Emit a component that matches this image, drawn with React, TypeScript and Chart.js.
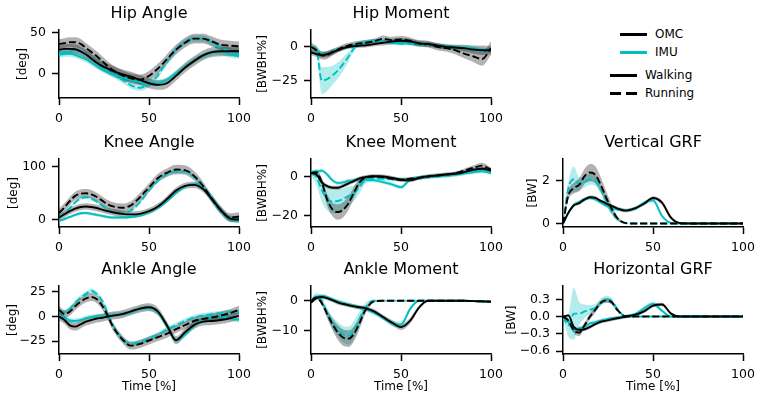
import React, { useEffect, useRef } from "react";
import { Chart, registerables } from "chart.js";
Chart.register(...registerables);

// ---------- data ----------
const X = [0, 3, 6, 9, 12, 15, 18, 21, 24, 27, 30, 35, 40, 45, 50, 55, 60, 65, 70, 75, 80, 85, 90, 95, 100];
const X_TICKS = [0, 50, 100];

// Hip angle [deg]
const HA_OMC_W = [29, 30, 30, 29.5, 27, 23, 18, 13, 9, 6, 3, -1, -4, -8, -12, -14, -12, -3, 7, 15, 22, 26, 27, 27, 27];
const HA_OMC_R = [36, 37, 38, 38, 36, 31, 26, 21, 15, 9, 4, -2, -6, -7.5, -3, 6, 17.5, 29, 37.5, 42.5, 42.5, 39, 35, 34, 33];
const HA_IMU_W = [23, 24, 24, 22.5, 20, 17, 13, 9, 5, 2, -1, -5, -8, -10.5, -12.5, -12, -7.5, 0, 8, 16, 21, 25, 26, 23, 21];
const HA_IMU_R = [25, 26, 27, 29, 27, 23, 18, 13, 8, 3, -1, -7.5, -14.5, -17.5, -12.5, -2, 14.5, 29, 38, 42.5, 42.5, 37.5, 31, 27, 25];
const HA_SD_OMC_W = [6, 6, 6, 6, 6, 6, 6, 6, 6, 6, 6, 6, 6, 6, 6, 6, 6, 6, 6, 6, 6, 6, 6, 6, 6];
const HA_SD_OMC_R = [6, 6, 6, 6, 6, 6, 6, 6, 6, 6, 6, 6, 6, 6, 6, 6, 6, 6, 6, 6, 6, 6, 6, 6, 6];
const HA_SD_IMU_W = [3.5, 3.5, 3.5, 3.5, 3.5, 3.5, 3.5, 3.5, 3.5, 3.5, 3.5, 3.5, 3.5, 3.5, 3.5, 3.5, 3.5, 3.5, 3.5, 3.5, 3.5, 3.5, 3.5, 3.5, 3.5];
const HA_SD_IMU_R = [4, 4, 4, 4, 4, 4, 4, 4, 4, 4, 4, 4, 4, 4, 4, 4, 4, 4, 4, 4, 4, 4, 4, 4, 4];
const HA_TICKS = [0, 50];

// Hip moment [BWBH%]
const HM_OMC_W = [-4, -5.5, -6, -5.5, -4, -2.5, -1, 0, 0.5, 0.8, 1, 2, 3, 4, 4.5, 4, 2.5, 2, 1, 0, -0.5, -1, -2, -2.5, -2.5];
const HM_OMC_R = [0, -2.5, -6.5, -6, -4, -2, 0, 1, 2, 2.5, 3, 4, 6, 5, 5.5, 4.5, 2.5, 2, 0, -1, -2.5, -5, -7, -9, -1];
const HM_IMU_W = [-0.5, -2.5, -5, -5.5, -3.5, -2, -1, 0.5, 1.5, 2.5, 3.5, 4.5, 4, 3, 2.5, 3, 2.5, 2, 1, 0.5, 0, -0.5, -1, -2, -2.5];
const HM_IMU_R = [0, -2, -25, -24, -21, -17.5, -12.5, -7, -1, 2.5, 3, 4.5, 4, 3, 2.5, 2, 1.5, 1.5, 0.5, 0, -0.5, -1.2, -2.5, -3, -2.5];
const HM_SD_OMC_W = [2, 2, 2, 2, 2, 1.5, 1.5, 1.5, 1.5, 1.5, 1.5, 1.5, 2, 2, 2, 2, 2, 2, 2, 2, 2, 2.5, 3, 3.5, 3];
const HM_SD_OMC_R = [3, 3, 3, 3, 2.5, 2, 2, 2, 2, 2, 2, 2, 2.5, 2.5, 2.5, 2.5, 2.5, 2.5, 2.5, 2.5, 3, 3.5, 4, 5, 5];
const HM_SD_IMU_W = [1.5, 1.5, 1.5, 1.5, 1.5, 1.5, 1.5, 1.5, 1.5, 1.5, 1.5, 1.5, 1.5, 1.5, 1.5, 1.5, 1.5, 1.5, 1.5, 1.5, 1.5, 1.5, 1.5, 1.5, 1.5];
const HM_SD_IMU_R = [1, 3, 10, 9, 7, 6, 5, 3.5, 2, 1.5, 1, 1, 1, 1, 1, 1, 1, 1, 1, 1, 1, 1, 1, 1, 1];
const HM_TICKS = [-25, 0];

// Knee angle [deg]
const KA_OMC_W = [4, 10, 16, 21, 24, 25, 24, 22, 19, 16, 14, 11, 10, 11, 16, 25, 39, 55, 64, 66, 58, 39, 17.5, 2, 0];
const KA_OMC_R = [12.5, 23, 35, 45, 49, 50, 48, 43, 36, 29, 25, 22.5, 27, 42.5, 61, 79, 89, 95, 94, 83, 64, 39, 17.5, 4, 6];
const KA_IMU_W = [-2.5, 1, 5, 9, 12, 12.5, 11, 9, 7, 5, 4, 4, 5, 8, 14, 22.5, 35, 50, 62.5, 67.5, 61, 42.5, 17.5, 0, -2.5];
const KA_IMU_R = [4, 12, 22, 33, 40, 42.5, 40, 34, 27, 20, 14, 12.5, 17.5, 33, 55, 74, 86, 91, 91, 81, 62.5, 37.5, 14, 2, 2];
const KA_SD_OMC_W = [6, 6, 6, 6, 6, 6, 6, 6, 6, 6, 6, 6, 6, 6, 6, 6, 6, 6, 6, 6, 6, 6, 6, 6, 6];
const KA_SD_OMC_R = [8, 8, 8, 8, 8, 8, 8, 8, 8, 8, 8, 8, 8, 8, 8, 8, 8, 9, 9, 9, 8, 8, 8, 8, 8];
const KA_SD_IMU_W = [3, 3, 3, 3, 3, 3, 3, 3, 3, 3, 3, 3, 3, 3, 3, 3, 3, 3, 3, 3, 3, 3, 3, 3, 3];
const KA_SD_IMU_R = [3, 3, 3, 3, 3, 3, 3, 3, 3, 3, 3, 3, 3, 3, 3, 3, 3, 3, 3, 3, 3, 3, 3, 3, 3];
const KA_TICKS = [0, 100];

// Knee moment [BWBH%]
const KM_OMC_W = [1.7, 1, -3, -5, -5.8, -5.8, -4.8, -3.5, -2.2, -1, -0.3, 0.2, 0, -0.7, -1.7, -2, -0.7, 0, 0.5, 1, 1.4, 2.2, 3.4, 4, 3];
const KM_OMC_R = [1.7, 2.2, -3, -12, -17, -18.3, -17, -13.5, -8, -3, -0.7, 0, -0.3, -1.2, -1.7, -1.2, -0.7, 0, 0.5, 1, 1.7, 3, 4.4, 5.6, 3.4];
const KM_IMU_W = [2.2, 2.5, 3, 1, -2, -3.4, -3, -2.2, -2, -1.9, -1.7, -2, -2.9, -4.1, -5.5, -1.7, -0.7, 0, 0.5, 0.5, 1, 1.7, 2.2, 2.7, 1.7];
const KM_IMU_R = [1.7, -0.3, -7, -11.5, -13, -12.6, -11.5, -10, -8.5, -5.5, -2, -1.2, -1.2, -1.2, -1.7, -1.2, -0.7, -0.3, 0, 0.5, 1, 1.7, 2.7, 3.4, 3];
const KM_SD_OMC_W = [1, 1, 1, 1, 1, 1, 1, 1, 1, 1, 1, 1, 1, 1, 1, 1, 1, 1, 1, 1, 1, 1, 1, 1, 1];
const KM_SD_OMC_R = [0.5, 1, 2, 3, 3.5, 4, 4, 3.5, 3, 2, 1, 0.8, 0.8, 0.8, 0.8, 0.8, 0.8, 0.8, 0.8, 0.8, 0.8, 1, 1.2, 1.5, 1.2];
const KM_SD_IMU_W = [1, 1, 1, 1, 1, 1, 1, 1, 1, 1, 1, 1, 1, 1, 1, 1, 1, 1, 1, 1, 1, 1, 1, 1, 1];
const KM_SD_IMU_R = [1, 4, 6, 6, 6, 6, 5.5, 5, 4, 3, 2, 1, 1, 1, 1, 1, 1, 1, 1, 1, 1, 1, 1, 1, 1];
const KM_TICKS = [-20, 0];

// Vertical GRF [BW]
const VG_OMC_W = [0, 0.5, 0.85, 0.95, 1.12, 1.22, 1.19, 1.05, 0.93, 0.82, 0.71, 0.6, 0.71, 0.92, 1.19, 0.97, 0.27, 0.02, 0, 0, 0, 0, 0, 0, 0];
const VG_OMC_R = [0, 1.32, 1.65, 1.8, 2.2, 2.37, 2.26, 1.8, 1.2, 0.7, 0.27, 0.02, 0, 0, 0, 0, 0, 0, 0, 0, 0, 0, 0, 0, 0];
const VG_IMU_W = [0, 0.5, 0.85, 1.0, 1.13, 1.19, 1.12, 0.97, 0.83, 0.74, 0.65, 0.62, 0.68, 0.97, 1.08, 0.35, 0.03, 0, 0, 0, 0, 0, 0, 0, 0];
const VG_IMU_R = [0, 1.65, 2.05, 1.85, 1.93, 2.05, 2.0, 1.6, 1.05, 0.55, 0.23, 0.02, 0, 0, 0, 0, 0, 0, 0, 0, 0, 0, 0, 0, 0];
const VG_SD_OMC_W = [0, 0.05, 0.08, 0.08, 0.08, 0.08, 0.08, 0.08, 0.08, 0.08, 0.08, 0.08, 0.08, 0.08, 0.08, 0.1, 0.08, 0.02, 0, 0, 0, 0, 0, 0, 0];
const VG_SD_OMC_R = [0, 0.2, 0.25, 0.3, 0.35, 0.4, 0.4, 0.35, 0.3, 0.2, 0.1, 0.02, 0, 0, 0, 0, 0, 0, 0, 0, 0, 0, 0, 0, 0];
const VG_SD_IMU_W = [0, 0.05, 0.08, 0.08, 0.08, 0.08, 0.08, 0.08, 0.08, 0.08, 0.08, 0.08, 0.08, 0.08, 0.1, 0.08, 0.02, 0, 0, 0, 0, 0, 0, 0, 0];
const VG_SD_IMU_R = [0, 0.3, 0.6, 0.3, 0.25, 0.25, 0.25, 0.2, 0.2, 0.15, 0.1, 0.02, 0, 0, 0, 0, 0, 0, 0, 0, 0, 0, 0, 0, 0];
const VG_TICKS = [0, 2];

// Ankle angle [deg]
const AA_OMC_W = [0, -3.5, -9, -10.2, -8, -5.2, -3.5, -2, -1.2, 0, 1, 2.4, 5.2, 8, 9.4, 5, -9, -24, -16, -8.7, -5.2, -4.5, -3.5, -1.7, 1];
const AA_OMC_R = [7, 2.4, 5, 10.5, 15, 18.4, 19.8, 17.5, 11, 1, -10.4, -22.6, -29.5, -27.8, -24.3, -20.8, -17.4, -12.8, -8.7, -4.5, -2.4, -1, 1, 3.5, 7];
const AA_IMU_W = [0, -1, -4, -4.5, -3.5, -1.7, -0.5, 0, 0.7, 1, 1.5, 2.4, 4.5, 8, 8.7, 4, -10, -24, -18.4, -9.4, -3.5, -1, 0, -1.7, -3.5];
const AA_IMU_R = [5.2, 4.5, 8, 14, 19, 23, 26, 23, 16, 4, -8.7, -22.6, -27.8, -26, -22.6, -18.4, -12.8, -8.7, -4.5, -1, 1, 2.4, 3.5, 4.5, 4.5];
const AA_SD_OMC_W = [4, 4, 4, 4, 4, 4, 4, 4, 4, 4, 4, 4, 4, 4, 4, 4, 4, 4, 4, 4, 4, 4, 4, 4, 4];
const AA_SD_OMC_R = [4, 4, 4, 4, 4, 4, 4, 4, 4, 4, 4, 4, 4, 4, 4, 4, 4, 4, 4, 4, 4, 4, 4, 4, 4];
const AA_SD_IMU_W = [2.5, 2.5, 2.5, 2.5, 2.5, 2.5, 2.5, 2.5, 2.5, 2.5, 2.5, 2.5, 2.5, 2.5, 2.5, 2.5, 2.5, 2.5, 2.5, 2.5, 2.5, 2.5, 2.5, 2.5, 2.5];
const AA_SD_IMU_R = [2.5, 2.5, 2.5, 2.5, 2.5, 2.5, 2.5, 2.5, 2.5, 2.5, 2.5, 2.5, 2.5, 2.5, 2.5, 2.5, 2.5, 2.5, 2.5, 2.5, 2.5, 2.5, 2.5, 2.5, 2.5];
const AA_TICKS = [-25, 0, 25];

// Ankle moment [BWBH%]
const AM_OMC_W = [-0.6, 0.9, 1.3, 0.9, 0.2, -0.6, -1.1, -1.5, -1.9, -2.2, -2.5, -3.6, -5.5, -7.4, -8.9, -6.8, -2.3, 0, 0, 0, 0, 0, -0.1, -0.2, -0.3];
const AM_OMC_R = [0, 1.1, -0.8, -4.5, -8, -10.8, -12.5, -12.8, -11, -7.5, -3.4, -0.2, 0, 0, 0, 0, 0, 0, 0, 0, 0, 0, -0.1, -0.2, -0.3];
const AM_IMU_W = [-0.6, 1.1, 1.6, 1.2, 0.4, -0.2, -0.8, -1.3, -1.8, -2.3, -2.8, -4, -5.7, -7.7, -8, -2.8, 0, 0, 0, 0, 0, 0, -0.1, -0.2, -0.3];
const AM_IMU_R = [0, 1.7, 0, -4, -7.5, -9.7, -11.4, -11.8, -9.7, -6, -2.3, 0, 0, 0, 0, 0, 0, 0, 0, 0, 0, 0, -0.1, -0.2, -0.3];
const AM_SD_OMC_W = [0.5, 0.6, 0.7, 0.7, 0.7, 0.7, 0.7, 0.7, 0.7, 0.7, 0.7, 0.8, 0.8, 0.9, 1, 1, 0.6, 0.2, 0.2, 0.2, 0.2, 0.2, 0.2, 0.2, 0.2];
const AM_SD_OMC_R = [0.3, 0.6, 0.8, 1.5, 2, 2.5, 2.8, 2.8, 2.5, 2, 1.2, 0.4, 0.2, 0.2, 0.2, 0.2, 0.2, 0.2, 0.2, 0.2, 0.2, 0.2, 0.2, 0.2, 0.2];
const AM_SD_IMU_W = [0.5, 0.6, 0.7, 0.7, 0.7, 0.7, 0.7, 0.7, 0.7, 0.7, 0.7, 0.8, 0.8, 0.9, 1, 0.8, 0.3, 0.2, 0.2, 0.2, 0.2, 0.2, 0.2, 0.2, 0.2];
const AM_SD_IMU_R = [0.3, 1, 1, 1.5, 2, 2.5, 2.8, 3, 3, 2.5, 1.5, 0.4, 0.2, 0.2, 0.2, 0.2, 0.2, 0.2, 0.2, 0.2, 0.2, 0.2, 0.2, 0.2, 0.2];
const AM_TICKS = [-10, 0];

// Horizontal GRF [BW]
const HG_OMC_W = [0, 0.02, -0.18, -0.23, -0.22, -0.18, -0.13, -0.09, -0.07, -0.05, -0.03, 0, 0.03, 0.09, 0.19, 0.21, 0.05, 0, 0, 0, 0, 0, 0, 0, 0];
const HG_OMC_R = [0, -0.07, -0.24, -0.28, -0.15, 0, 0.12, 0.24, 0.28, 0.25, 0.12, 0, 0, 0, 0, 0, 0, 0, 0, 0, 0, 0, 0, 0, 0];
const HG_IMU_W = [0, -0.1, -0.24, -0.2, -0.18, -0.12, -0.1, -0.07, -0.05, -0.03, -0.02, 0, 0.04, 0.14, 0.22, 0.1, 0, 0, 0, 0, 0, 0, 0, 0, 0];
const HG_IMU_R = [0, -0.15, 0.05, 0.05, 0.09, 0.12, 0.15, 0.25, 0.3, 0.27, 0.14, 0, 0, 0, 0, 0, 0, 0, 0, 0, 0, 0, 0, 0, 0];
const HG_SD_OMC_W = [0, 0.02, 0.03, 0.03, 0.03, 0.03, 0.03, 0.03, 0.03, 0.03, 0.03, 0.03, 0.03, 0.03, 0.03, 0.03, 0.02, 0, 0, 0, 0, 0, 0, 0, 0];
const HG_SD_OMC_R = [0, 0.03, 0.05, 0.06, 0.05, 0.05, 0.05, 0.04, 0.04, 0.04, 0.03, 0.01, 0, 0, 0, 0, 0, 0, 0, 0, 0, 0, 0, 0, 0];
const HG_SD_IMU_W = [0, 0.02, 0.03, 0.03, 0.03, 0.03, 0.03, 0.03, 0.03, 0.03, 0.03, 0.03, 0.03, 0.04, 0.04, 0.03, 0.01, 0, 0, 0, 0, 0, 0, 0, 0];
const HG_SD_IMU_R = [0, 0.2, 0.45, 0.2, 0.12, 0.08, 0.07, 0.06, 0.06, 0.05, 0.04, 0.01, 0, 0, 0, 0, 0, 0, 0, 0, 0, 0, 0, 0, 0];
const HG_TICKS = [-0.6, -0.3, 0, 0.3];

// ---------- style / layout ----------
const FONT = "'DejaVu Sans', sans-serif";
const BLACK = "#000000";
const CYAN = "rgb(0,191,191)";
const GRAY_FILL = "rgba(0,0,0,0.3)";
const CYAN_FILL = "rgba(0,191,191,0.3)";
const PLOT_LEFT = [59, 311, 563];
const PLOT_TOP = [30, 159, 286];
const PLOT_W = 180;
const PLOT_H = 68;
const YW = 58;
const RP = 22;
const TH = 28;

type Panel = {
  title: string; ylabel: string; row: number; col: number;
  ymin: number; ymax: number; yticks: number[]; dec: number; ytPad: number;
  series: [number[], number[], number[], number[]];
  sds: [number[], number[], number[], number[]];
};

const PANELS: Panel[] = [
  { title: "Hip Angle", ylabel: "[deg]", row: 0, col: 0, ymin: -30, ymax: 53, yticks: HA_TICKS, dec: 0, ytPad: 15,
    series: [HA_OMC_W, HA_OMC_R, HA_IMU_W, HA_IMU_R], sds: [HA_SD_OMC_W, HA_SD_OMC_R, HA_SD_IMU_W, HA_SD_IMU_R] },
  { title: "Hip Moment", ylabel: "[BWBH%]", row: 0, col: 1, ymin: -38, ymax: 12.5, yticks: HM_TICKS, dec: 0, ytPad: 3,
    series: [HM_OMC_W, HM_OMC_R, HM_IMU_W, HM_IMU_R], sds: [HM_SD_OMC_W, HM_SD_OMC_R, HM_SD_IMU_W, HM_SD_IMU_R] },
  { title: "Knee Angle", ylabel: "[deg]", row: 1, col: 0, ymin: -14, ymax: 115, yticks: KA_TICKS, dec: 0, ytPad: 5.8,
    series: [KA_OMC_W, KA_OMC_R, KA_IMU_W, KA_IMU_R], sds: [KA_SD_OMC_W, KA_SD_OMC_R, KA_SD_IMU_W, KA_SD_IMU_R] },
  { title: "Knee Moment", ylabel: "[BWBH%]", row: 1, col: 1, ymin: -26, ymax: 9, yticks: KM_TICKS, dec: 0, ytPad: 3,
    series: [KM_OMC_W, KM_OMC_R, KM_IMU_W, KM_IMU_R], sds: [KM_SD_OMC_W, KM_SD_OMC_R, KM_SD_IMU_W, KM_SD_IMU_R] },
  { title: "Vertical GRF", ylabel: "[BW]", row: 1, col: 2, ymin: -0.16, ymax: 3.0, yticks: VG_TICKS, dec: 0, ytPad: 20.5,
    series: [VG_OMC_W, VG_OMC_R, VG_IMU_W, VG_IMU_R], sds: [VG_SD_OMC_W, VG_SD_OMC_R, VG_SD_IMU_W, VG_SD_IMU_R] },
  { title: "Ankle Angle", ylabel: "[deg]", row: 2, col: 0, ymin: -38, ymax: 31, yticks: AA_TICKS, dec: 0, ytPad: 4.3,
    series: [AA_OMC_W, AA_OMC_R, AA_IMU_W, AA_IMU_R], sds: [AA_SD_OMC_W, AA_SD_OMC_R, AA_SD_IMU_W, AA_SD_IMU_R] },
  { title: "Ankle Moment", ylabel: "[BWBH%]", row: 2, col: 1, ymin: -18, ymax: 5, yticks: AM_TICKS, dec: 0, ytPad: 3,
    series: [AM_OMC_W, AM_OMC_R, AM_IMU_W, AM_IMU_R], sds: [AM_SD_OMC_W, AM_SD_OMC_R, AM_SD_IMU_W, AM_SD_IMU_R] },
  { title: "Horizontal GRF", ylabel: "[BW]", row: 2, col: 2, ymin: -0.65, ymax: 0.53, yticks: HG_TICKS, dec: 1, ytPad: 0,
    series: [HG_OMC_W, HG_OMC_R, HG_IMU_W, HG_IMU_R], sds: [HG_SD_OMC_W, HG_SD_OMC_R, HG_SD_IMU_W, HG_SD_IMU_R] },
];

const SERIES_STYLE = [
  { color: BLACK, fill: GRAY_FILL, dash: [] as number[] },
  { color: BLACK, fill: GRAY_FILL, dash: [7, 3] },
  { color: CYAN, fill: CYAN_FILL, dash: [] as number[] },
  { color: CYAN, fill: CYAN_FILL, dash: [7, 3] },
];

function fmt(v: number, dec: number) {
  const s = Math.abs(v).toFixed(dec);
  return v < -1e-9 ? "\u2212" + s : s;
}

function buildDatasets(p: Panel) {
  const ds: any[] = [];
  p.series.forEach((mean, k) => {
    const st = SERIES_STYLE[k];
    const sd = p.sds[k];
    ds.push({
      data: X.map((x, i) => ({ x, y: mean[i] + sd[i] })),
      borderColor: "transparent", borderWidth: 0, pointRadius: 0, fill: "+1",
      backgroundColor: st.fill, order: 3, cubicInterpolationMode: "monotone",
    });
    ds.push({
      data: X.map((x, i) => ({ x, y: mean[i] - sd[i] })),
      borderColor: "transparent", borderWidth: 0, pointRadius: 0, fill: false,
      backgroundColor: st.fill, order: 3, cubicInterpolationMode: "monotone",
    });
  });
  // lines: cyan first (behind), black on top
  [2, 3, 0, 1].forEach((k) => {
    const st = SERIES_STYLE[k];
    ds.push({
      data: X.map((x, i) => ({ x, y: p.series[k][i] })),
      borderColor: st.color, borderWidth: 1.9, borderDash: st.dash, pointRadius: 0, fill: false,
      order: k < 2 ? 1 : 2, cubicInterpolationMode: "monotone",
    });
  });
  return ds;
}

function PanelChart({ p }: { p: Panel }) {
  const ref = useRef<HTMLCanvasElement | null>(null);
  const xh = p.row === 2 ? 45 : 25;
  const w = YW + PLOT_W + RP;
  const h = TH + PLOT_H + xh;
  const left = PLOT_LEFT[p.col] - YW;
  const top = PLOT_TOP[p.row] - TH;
  useEffect(() => {
    if (!ref.current) return;
    const chart = new Chart(ref.current, {
      type: "line",
      data: { datasets: buildDatasets(p) },
      options: {
        responsive: false,
        animation: false,
        events: [],
        layout: { padding: { left: 0, right: RP, top: 0, bottom: 0 } },
        plugins: {
          legend: { display: false },
          tooltip: { enabled: false },
          title: {
            display: true, text: p.title, fullSize: false, color: BLACK,
            font: { family: FONT, size: 16, weight: "normal", lineHeight: 1.2 },
            padding: { top: 1.8, bottom: 7.0 },
          },
        },
        scales: {
          x: {
            type: "linear", min: 0, max: 100,
            afterBuildTicks: (s: any) => { s.ticks = X_TICKS.map((v) => ({ value: v })); },
            afterFit: (s: any) => { s.height = xh; },
            grid: { display: true, drawOnChartArea: false, drawTicks: true, tickLength: 7, tickWidth: 1.5, tickColor: BLACK },
            border: { display: true, color: BLACK, width: 1.5 },
            ticks: { color: BLACK, font: { family: FONT, size: 12.5 }, padding: 6, maxRotation: 0, autoSkip: false,
              callback: (v: any) => fmt(Number(v), 0) },
            title: { display: p.row === 2, text: "Time [%]", color: BLACK, font: { family: FONT, size: 12 }, padding: { top: 0, bottom: 5 } },
          },
          y: {
            type: "linear", min: p.ymin, max: p.ymax,
            afterBuildTicks: (s: any) => { s.ticks = p.yticks.map((v) => ({ value: v })); },
            afterFit: (s: any) => { s.width = YW; },
            grid: { display: true, drawOnChartArea: false, drawTicks: true, tickLength: 7, tickWidth: 1.5, tickColor: BLACK },
            border: { display: true, color: BLACK, width: 1.5 },
            ticks: { color: BLACK, font: { family: FONT, size: 12.5 }, padding: 6, autoSkip: false,
              callback: (v: any) => fmt(Number(v), p.dec) },
            title: { display: true, text: p.ylabel, color: BLACK, font: { family: FONT, size: 12 }, padding: { top: p.ytPad, bottom: 0 } },
          },
        },
      } as any,
    });
    return () => chart.destroy();
  }, []);
  return (
    <canvas ref={ref} width={w} height={h}
      style={{ position: "absolute", left, top, width: w, height: h }} />
  );
}

function LegendLine({ x1, x2, y, color, dashed }: { x1: number; x2: number; y: number; color: string; dashed?: boolean }) {
  if (!dashed) {
    return <div style={{ position: "absolute", left: x1, top: y - 1.5, width: x2 - x1, height: 3, background: color }} />;
  }
  return (
    <>
      <div style={{ position: "absolute", left: x1, top: y - 1.5, width: 11, height: 3, background: color }} />
      <div style={{ position: "absolute", left: x2 - 11, top: y - 1.5, width: 11, height: 3, background: color }} />
    </>
  );
}

function LegendText({ x, y, text }: { x: number; y: number; text: string }) {
  return (
    <div style={{ position: "absolute", left: x, top: y - 8, height: 16, lineHeight: "16px", fontFamily: FONT, fontSize: 12, color: BLACK, whiteSpace: "nowrap" }}>
      {text}
    </div>
  );
}

export default function App() {
  return (
    <div style={{ position: "fixed", left: 0, top: 0, width: 760, height: 399, background: "#ffffff", overflow: "hidden" }}>
      {PANELS.map((p) => <PanelChart key={p.title} p={p} />)}
      <LegendLine x1={620} x2={647} y={34} color={BLACK} />
      <LegendText x={655} y={34} text="OMC" />
      <LegendLine x1={620} x2={647} y={52} color={CYAN} />
      <LegendText x={655} y={52} text="IMU" />
      <LegendLine x1={610} x2={637} y={75} color={BLACK} />
      <LegendText x={645} y={75} text="Walking" />
      <LegendLine x1={610} x2={637} y={93} color={BLACK} dashed />
      <LegendText x={645} y={93} text="Running" />
    </div>
  );
}
